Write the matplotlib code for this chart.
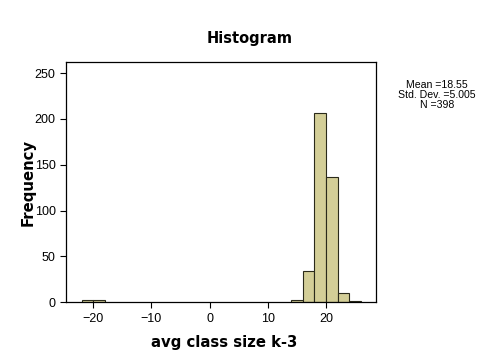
import matplotlib
matplotlib.use("Agg")
import matplotlib.pyplot as plt

# Histogram data (bin edges and counts)
bin_lefts = [-22, -20, 14, 16, 18, 20, 22, 24]
counts = [3, 3, 3, 34, 207, 137, 10, 1]
bin_width = 2
xticks = [-20, -10, 0, 10, 20]
yticks = [0, 50, 100, 150, 200, 250]
stats_text = "Mean =18.55\nStd. Dev. =5.005\nN =398"

fig = plt.figure(figsize=(5.04, 3.64), dpi=100)
ax = fig.add_axes([66/504, 1 - 302.3/364, (376-66)/504, (302.3-61.7)/364])

ax.bar(bin_lefts, counts, width=bin_width, align="edge",
       color="#D3CE97", edgecolor="#2a2a1a", linewidth=0.8)

ax.set_xlim(-24.7, 28.6)
ax.set_ylim(0, 262.5)
ax.set_xticks(xticks)
ax.set_yticks(yticks)
ax.tick_params(labelsize=9, length=4, width=0.8, direction="out")
for lab in ax.get_xticklabels() + ax.get_yticklabels():
    lab.set_family("Liberation Sans")
for s in ax.spines.values():
    s.set_linewidth(0.9)

fig.text(250/504, 1 - 38/364, "Histogram", ha="center", va="center",
         fontsize=10.5, fontweight="bold")
fig.text(224/504, 1 - 342/364, "avg class size k-3", ha="center", va="center",
         fontsize=10.7, fontweight="bold")
fig.text(28/504, 1 - 182/364, "Frequency", ha="center", va="center",
         rotation=90, fontsize=10.7, fontweight="bold")
fig.text(437/504, 1 - 95/364, stats_text, ha="center", va="center",
         fontsize=7.6, family="Liberation Sans", linespacing=0.95)

fig.savefig("out.png", dpi=100)
